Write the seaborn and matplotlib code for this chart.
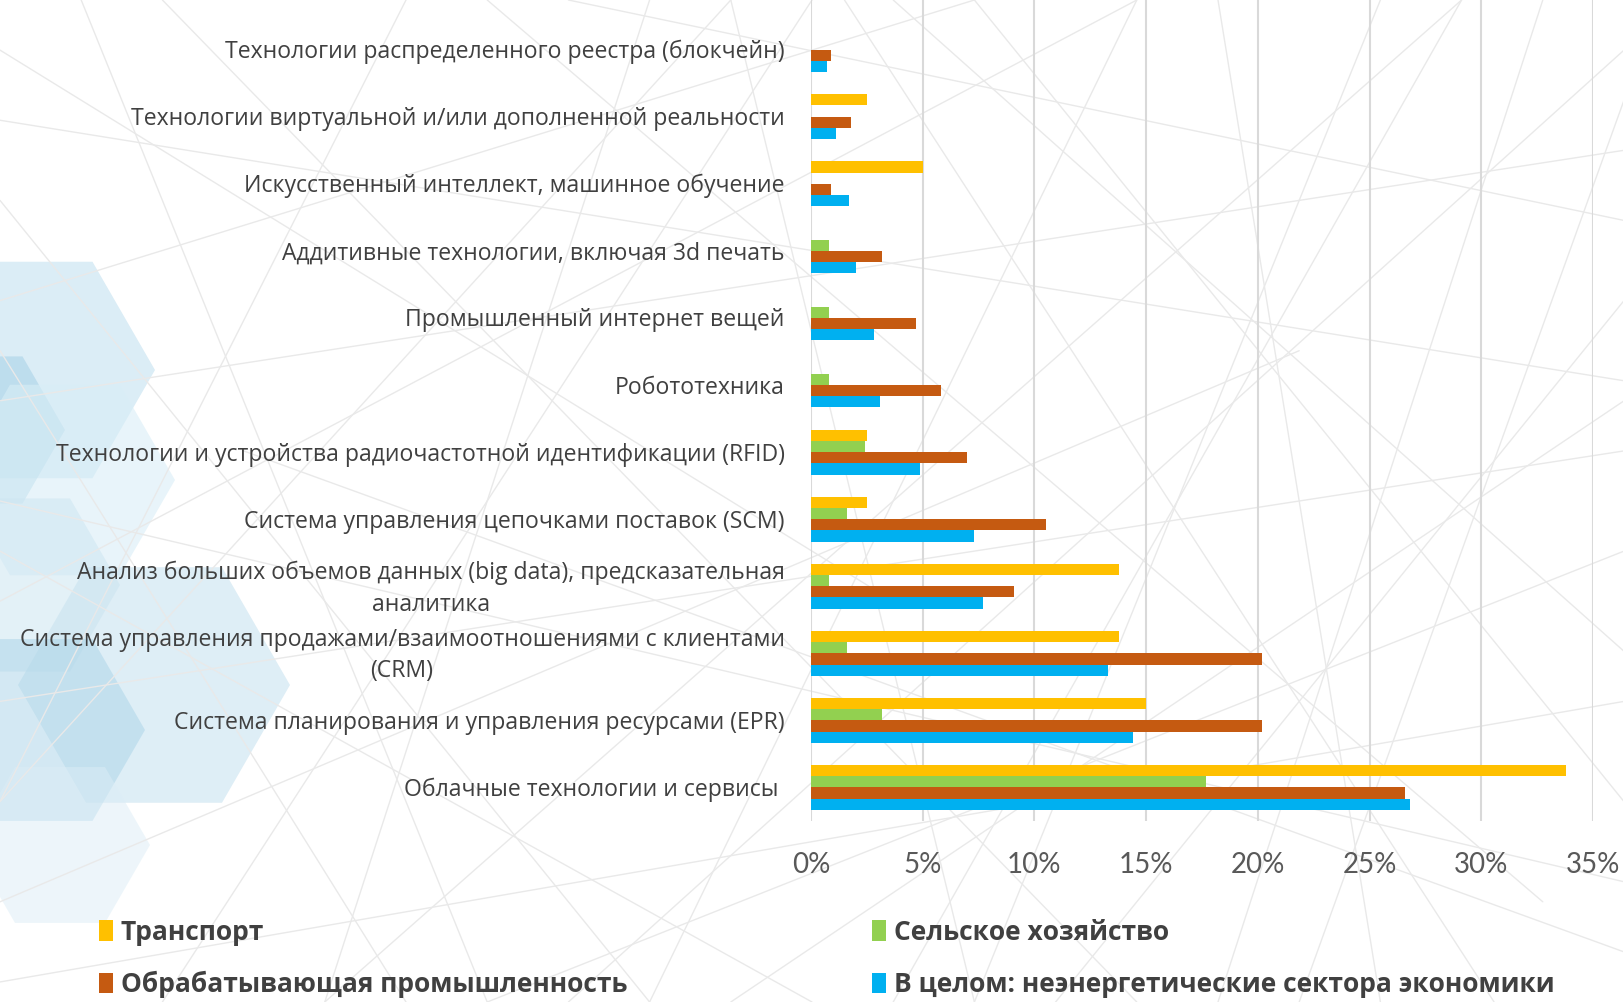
import matplotlib
matplotlib.use("Agg")
import matplotlib.pyplot as plt
import matplotlib.transforms as mtransforms
from matplotlib.patches import RegularPolygon, Rectangle
from matplotlib.lines import Line2D
import seaborn as sns
import pandas as pd

categories = [
    "Технологии распределенного реестра (блокчейн)",
    "Технологии виртуальной и/или дополненной реальности",
    "Искусственный интеллект, машинное обучение",
    "Аддитивные технологии, включая 3d печать",
    "Промышленный интернет вещей",
    "Робототехника",
    "Технологии и устройства радиочастотной идентификации (RFID)",
    "Система управления цепочками поставок (SCM)",
    "Анализ больших объемов данных (big data), предсказательная\nаналитика",
    "Система управления продажами/взаимоотношениями с клиентами\n(CRM)",
    "Система планирования и управления ресурсами (EPR)",
    "Облачные технологии и сервисы ",
]

series_names = [
    "Транспорт",
    "Сельское хозяйство",
    "Обрабатывающая промышленность",
    "В целом: неэнергетические сектора экономики",
]

transport = [0.0, 2.5, 5.0, 0.0, 0.0, 0.0, 2.5, 2.5, 13.8, 13.8, 15.0, 33.8]
agriculture = [0.0, 0.0, 0.0, 0.8, 0.8, 0.8, 2.4, 1.6, 0.8, 1.6, 3.2, 17.7]
manufacturing = [0.9, 1.8, 0.9, 3.2, 4.7, 5.8, 7.0, 10.5, 9.1, 20.2, 20.2, 26.6]
non_energy = [0.7, 1.1, 1.7, 2.0, 2.8, 3.1, 4.9, 7.3, 7.7, 13.3, 14.4, 26.8]

colors = ["#FFC000", "#92D050", "#C55A11", "#00B0F0"]
x_ticks = [0, 5, 10, 15, 20, 25, 30, 35]

rows = []
for name, vals in zip(series_names, [transport, agriculture, manufacturing, non_energy]):
    for cat, v in zip(categories, vals):
        rows.append({"category": cat, "series": name, "value": v})
df = pd.DataFrame(rows)

sns.set_theme(style="white")
plt.rcParams["font.family"] = ["Open Sans", "DejaVu Sans"]

W, H = 1624, 1002
fig = plt.figure(figsize=(W / 100, H / 100), dpi=100)
fig.patch.set_facecolor("white")

# decorative background: pale blue hexagons on the left (pixel coords, y from top)
hexes = [
    (30, 370, 125, "#cfe7f3", 0.75),
    (-20, 430, 85, "#a6d0e6", 0.55),
    (65, 480, 110, "#d9eef7", 0.6),
    (20, 585, 100, "#cde6f2", 0.55),
    (154, 685, 136, "#c9e3f0", 0.6),
    (40, 730, 105, "#a9d3e8", 0.5),
    (60, 845, 90, "#dcedf6", 0.5),
]
for cx, cy, r, c, a in hexes:
    fig.patches.append(RegularPolygon((cx, H - cy), numVertices=6, radius=r,
                                      orientation=0.5236, facecolor=c, alpha=a,
                                      edgecolor="none", transform=None, zorder=-3))

# faint network of lines across the background (figure fractions)
net_lines = [
    ((0.00, 0.95), (0.55, 0.40)), ((0.10, 1.00), (0.70, 0.00)), ((0.30, 1.00), (0.95, 0.10)),
    ((0.00, 0.60), (1.00, 0.85)), ((0.20, 0.00), (0.90, 1.00)), ((0.45, 1.00), (0.60, 0.00)),
    ((0.00, 0.30), (1.00, 0.55)), ((0.55, 1.00), (1.00, 0.35)), ((0.65, 0.00), (1.00, 0.70)),
    ((0.00, 0.80), (0.40, 0.00)), ((0.35, 0.00), (1.00, 0.95)), ((0.75, 1.00), (0.85, 0.00)),
    ((0.50, 0.00), (0.00, 0.45)), ((0.60, 1.00), (1.00, 0.20)), ((0.15, 0.55), (1.00, 0.05)),
    ((0.00, 0.10), (0.80, 0.65)), ((0.90, 1.00), (0.55, 0.00)), ((0.25, 1.00), (0.00, 0.20)),
    ((0.05, 1.00), (0.30, 0.00)), ((0.40, 1.00), (0.20, 0.00)), ((0.70, 1.00), (0.40, 0.00)),
    ((0.00, 0.70), (0.60, 1.00)), ((0.00, 0.40), (0.70, 1.00)), ((0.30, 0.00), (1.00, 0.45)),
    ((0.80, 0.00), (1.00, 0.90)), ((0.95, 1.00), (0.75, 0.00)), ((0.00, 0.20), (0.45, 1.00)),
    ((0.10, 0.00), (0.50, 1.00)), ((0.60, 0.00), (0.85, 1.00)), ((0.00, 0.88), (1.00, 0.62)),
    ((0.00, 0.50), (1.00, 0.12)), ((0.25, 0.00), (0.00, 0.65)), ((1.00, 0.78), (0.35, 1.00)),
    ((0.45, 0.00), (1.00, 0.60)), ((0.00, 0.02), (1.00, 0.30)), ((0.52, 1.00), (0.92, 0.00)),
]
for (x0, y0), (x1, y1) in net_lines:
    fig.add_artist(Line2D([x0, x1], [y0, y1], transform=fig.transFigure,
                          color="#e9e9e9", lw=1.0, zorder=-2))

ax = fig.add_axes([811 / W, 1 - 821 / H, 782 / W, 821 / H])
ax.set_facecolor("none")

sns.barplot(data=df, y="category", x="value", hue="series", order=categories,
            hue_order=series_names, palette=colors, orient="h", width=0.67,
            linewidth=0, saturation=1, ax=ax, legend=False)

ax.set_xlim(0, 35)
ax.set_ylim(len(categories) - 0.5, -0.74)
ax.set_xticks(x_ticks)
ax.set_xticklabels([f"{t}%" for t in x_ticks], fontsize=20, color="#595959",
                   family=["Lato", "DejaVu Sans"])
ax.tick_params(axis="x", length=0, pad=22)
ax.tick_params(axis="y", length=0, pad=19)

# category labels: centred on their bar group, multi-line ones centre-aligned
shift_down = mtransforms.ScaledTranslation(0, -2.5 / 100, fig.dpi_scale_trans)
for lbl in ax.get_yticklabels():
    lbl.set_fontsize(16.6)
    lbl.set_color("#404040")
    lbl.set_multialignment("center")
    lbl.set_linespacing(1.4)
    lbl.set_verticalalignment("center")
    lbl.set_transform(lbl.get_transform() + shift_down)
ax.set_xlabel("")
ax.set_ylabel("")
ax.xaxis.grid(True, color="#d9d9d9", lw=1.5)
ax.set_axisbelow(True)
for s in ax.spines.values():
    s.set_visible(False)

# legend laid out row by row: matplotlib fills columns first, so interleave
order = [0, 2, 1, 3]
handles = [Rectangle((0, 0), 1, 1, facecolor=colors[i], edgecolor="none") for i in order]
labels = [series_names[i] for i in order]
fig.legend(handles, labels, loc="lower left", bbox_to_anchor=(88 / W, -0.007),
           ncol=2, frameon=False, handlelength=0.55, handleheight=0.8, handletextpad=0.3,
           columnspacing=9.25, labelspacing=0.97,
           prop={"family": ["Open Sans", "DejaVu Sans"], "weight": "bold", "size": 19},
           labelcolor="#404040", borderaxespad=0.0)

fig.savefig("out.png", dpi=100)
